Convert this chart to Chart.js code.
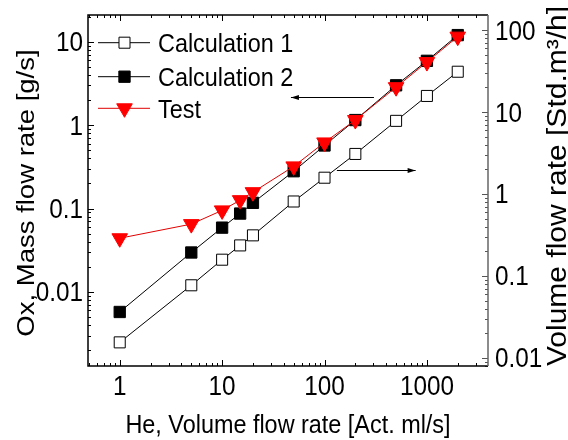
<!DOCTYPE html>
<html>
<head>
<meta charset="utf-8">
<script src="https://cdn.jsdelivr.net/npm/chart.js@4/dist/chart.umd.min.js"></script>
<style>
html,body{margin:0;padding:0;background:#fff;}
#wrap{width:568px;height:440px;}
</style>
</head>
<body>
<div id="wrap"><canvas id="c" width="568" height="440"></canvas></div>
<script>
// ---- data ----
const heFlow = [1, 5, 10, 15, 20, 50, 100, 200, 500, 1000, 2000];          // Act. ml/s
const calc1Volume = [0.0155, 0.077, 0.158, 0.236, 0.313, 0.81, 1.58, 3.08, 7.8, 15.7, 31]; // Std.m3/h (right axis)
const calc2Mass = [0.00575, 0.0297, 0.059, 0.087, 0.117, 0.28, 0.57, 1.15, 3.0, 5.9, 12.0]; // g/s (left axis)
const testMass = [0.044, 0.065, 0.095, 0.126, 0.157, 0.32, 0.62, 1.15, 2.85, 5.7, 11.5];    // g/s (left axis)
const seriesLabels = ['Calculation 1', 'Calculation 2', 'Test'];
const xTicks = [1, 10, 100, 1000];
const yLeftTicks = [0.01, 0.1, 1, 10];
const yRightTicks = [0.01, 0.1, 1, 10, 100];
const xTitle = 'He, Volume flow rate [Act. ml/s]';
const yLeftTitle = 'Ox, Mass flow rate [g/s]';
const yRightTitle = 'Volume flow rate [Std.m\u00B3/h]';

const FONT = '"Liberation Sans", Arial, sans-serif';
const SQ = 0.9; // horizontal squeeze of the reference's lettering
const pts = (ys) => heFlow.map((x, i) => ({x: x, y: ys[i]}));
const fmt = (v) => String(Number(v.toPrecision(3)));

function txt(ctx, str, x, y, size, align, rot) {
  ctx.save();
  ctx.translate(x, y);
  ctx.scale(SQ, 1);
  if (rot) ctx.rotate(-Math.PI / 2);
  ctx.font = size + 'px ' + FONT;
  ctx.fillStyle = '#000';
  ctx.textAlign = align;
  ctx.textBaseline = 'alphabetic';
  ctx.fillText(str, 0, 0);
  ctx.restore();
}

const frameTicks = {
  id: 'frameTicks',
  beforeDatasetsDraw(chart) {
    const ctx = chart.ctx, a = chart.chartArea;
    const sx = chart.scales.x, sl = chart.scales.y, sr = chart.scales.y1;
    ctx.save();
    ctx.lineWidth = 1;
    ctx.strokeStyle = '#000';
    function each(scale, cb) {
      const lo = Math.floor(Math.log10(scale.min)), hi = Math.ceil(Math.log10(scale.max));
      for (let d = lo; d <= hi; d++) {
        for (let k = 1; k <= 9; k++) {
          const v = k * Math.pow(10, d);
          if (v < scale.min || v > scale.max) continue;
          cb(Math.round(scale.getPixelForValue(v)) + 0.5, k === 1 ? 6 : 3);
        }
      }
    }
    ctx.beginPath();
    each(sx, (p, len) => {
      ctx.moveTo(p, a.bottom); ctx.lineTo(p, a.bottom - len);
      ctx.moveTo(p, a.top); ctx.lineTo(p, a.top + len);
    });
    each(sl, (p, len) => { ctx.moveTo(a.left, p); ctx.lineTo(a.left + len, p); });
    ctx.stroke();
    ctx.strokeStyle = '#555';
    ctx.beginPath();
    each(sr, (p, len) => { ctx.moveTo(a.right, p); ctx.lineTo(a.right - len, p); });
    ctx.stroke();
    // frame
    ctx.lineWidth = 1.5;
    ctx.strokeStyle = '#000';
    ctx.beginPath();
    ctx.moveTo(a.right, a.top); ctx.lineTo(a.left, a.top); ctx.lineTo(a.left, a.bottom); ctx.lineTo(a.right, a.bottom);
    ctx.stroke();
    ctx.strokeStyle = '#666';
    ctx.beginPath();
    ctx.moveTo(a.right, a.top); ctx.lineTo(a.right, a.bottom);
    ctx.stroke();
    ctx.restore();
  },
  afterDraw(chart) {
    const ctx = chart.ctx, a = chart.chartArea;
    const sx = chart.scales.x, sl = chart.scales.y, sr = chart.scales.y1;
    // tick labels
    xTicks.forEach(v => txt(ctx, fmt(v), sx.getPixelForValue(v), a.bottom + 29, 27, 'center'));
    yLeftTicks.forEach(v => txt(ctx, fmt(v), a.left - 5, sl.getPixelForValue(v) + 9.5, 27, 'right'));
    yRightTicks.forEach(v => txt(ctx, fmt(v), a.right + 7, sr.getPixelForValue(v) + 9.5, 27, 'left'));
    // axis titles
    txt(ctx, xTitle, (a.left + a.right) / 2, 433, 26, 'center');
    txt(ctx, yLeftTitle, 34, 193, 27.5, 'center', true);
    txt(ctx, yRightTitle, 566, 186, 30, 'center', true);

    // legend
    ctx.save();
    const rows = [42.7, 76.7, 108.3];
    chart.data.datasets.forEach((ds, i) => {
      const y = rows[i];
      ctx.strokeStyle = ds.borderColor;
      ctx.lineWidth = 1;
      ctx.beginPath(); ctx.moveTo(98, y); ctx.lineTo(150, y); ctx.stroke();
      ctx.fillStyle = ds.pointBackgroundColor;
      ctx.strokeStyle = ds.pointBorderColor;
      ctx.lineWidth = 1;
      Chart.helpers.drawPoint(ctx, {pointStyle: ds.pointStyle, rotation: ds.pointRotation || 0, radius: ds.pointRadius, borderWidth: 1}, 124.5, y);
      txt(ctx, ds.label, 158, y + 9.5, 26, 'left');
    });
    // arrows (left arrow -> left axis, right arrow -> right axis)
    function arrow(x1, x2, y, headRight) {
      ctx.strokeStyle = '#000'; ctx.fillStyle = '#000'; ctx.lineWidth = 1;
      ctx.beginPath(); ctx.moveTo(x1, y); ctx.lineTo(x2, y); ctx.stroke();
      const hx = headRight ? x2 : x1, dir = headRight ? -1 : 1;
      ctx.beginPath(); ctx.moveTo(hx, y); ctx.lineTo(hx + dir * 8, y - 2.5); ctx.lineTo(hx + dir * 8, y + 2.5); ctx.closePath(); ctx.fill();
    }
    const ly = Math.round(sl.getPixelForValue(2.19)) + 0.5;
    arrow(sx.getPixelForValue(47), sx.getPixelForValue(304), ly, false);
    const ry = Math.round(sr.getPixelForValue(1.96)) + 0.5;
    arrow(sx.getPixelForValue(132), sx.getPixelForValue(776), ry, true);
    ctx.restore();
  }
};

new Chart(document.getElementById('c'), {
  type: 'scatter',
  data: {
    datasets: [
      {
        label: seriesLabels[0], data: pts(calc1Volume), yAxisID: 'y1', showLine: true,
        borderColor: '#000', borderWidth: 1, pointStyle: 'rect', pointRadius: 7.8,
        pointBackgroundColor: '#fff', pointBorderColor: '#000', pointBorderWidth: 1, order: 2
      },
      {
        label: seriesLabels[1], data: pts(calc2Mass), yAxisID: 'y', showLine: true,
        borderColor: '#000', borderWidth: 1, pointStyle: 'rect', pointRadius: 8,
        pointBackgroundColor: '#000', pointBorderColor: '#000', pointBorderWidth: 1, order: 1
      },
      {
        label: seriesLabels[2], data: pts(testMass), yAxisID: 'y', showLine: true,
        borderColor: '#e00000', borderWidth: 1, pointStyle: 'triangle', pointRotation: 180, pointRadius: 9,
        pointBackgroundColor: '#ff0000', pointBorderColor: '#ff0000', pointBorderWidth: 1, order: 0
      }
    ]
  },
  options: {
    responsive: false,
    animation: false,
    devicePixelRatio: 1,
    layout: {padding: {top: 15, left: 0, right: 0, bottom: 0}},
    plugins: {legend: {display: false}, tooltip: {enabled: false}},
    scales: {
      x: {
        type: 'logarithmic', position: 'bottom', min: 0.49, max: 3950,
        grid: {display: false, drawTicks: false}, border: {display: false},
        ticks: {display: false}, title: {display: false},
        afterFit: (s) => { s.height = 74; s.paddingLeft = 0; s.paddingRight = 0; }
      },
      y: {
        type: 'logarithmic', position: 'left', min: 0.001294, max: 20.9,
        grid: {display: false, drawTicks: false}, border: {display: false},
        ticks: {display: false}, title: {display: false},
        afterFit: (s) => { s.width = 88; s.paddingTop = 0; s.paddingBottom = 0; }
      },
      y1: {
        type: 'logarithmic', position: 'right', min: 0.00798, max: 152.5,
        grid: {display: false, drawTicks: false}, border: {display: false},
        ticks: {display: false}, title: {display: false},
        afterFit: (s) => { s.width = 80; s.paddingTop = 0; s.paddingBottom = 0; }
      }
    }
  },
  plugins: [frameTicks]
});
</script>
</body>
</html>
